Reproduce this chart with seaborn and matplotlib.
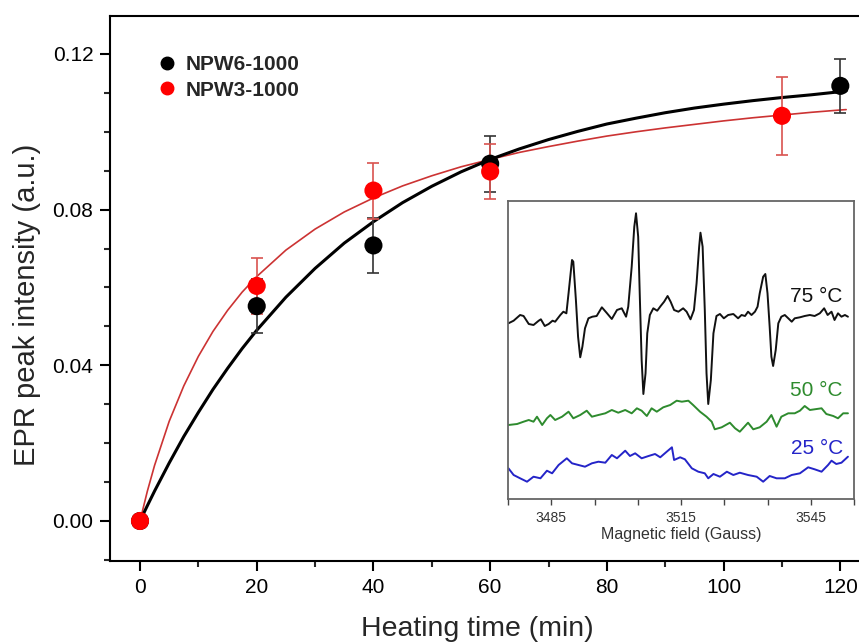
import numpy as np
import matplotlib
matplotlib.use("Agg")
import matplotlib.pyplot as plt
import seaborn as sns
from matplotlib.ticker import MultipleLocator, FixedLocator, FormatStrFormatter
from matplotlib.lines import Line2D

# ---------------- data: main panel ----------------
time_npw6 = [0, 20, 40, 60, 120]
intensity_npw6 = [0.0, 0.0552, 0.0708, 0.0918, 0.1118]
error_npw6 = [0.0, 0.0070, 0.0070, 0.0072, 0.0070]

time_npw3 = [0, 20, 40, 60, 110]
intensity_npw3 = [0.0, 0.0604, 0.0849, 0.0898, 0.1041]
error_npw3 = [0.0, 0.0073, 0.0072, 0.0071, 0.0100]

# fitted curves
fit_time = [0, 1.25, 2.5, 5, 7.5, 10, 12.5, 15, 17.5, 20, 25, 30, 35, 40, 45, 50, 55, 60,
            65, 70, 75, 80, 85, 90, 95, 100, 105, 110, 115, 120, 121]
fit_npw6 = [0.0, 0.0039, 0.0077, 0.0149, 0.0217, 0.0279, 0.0338, 0.0392, 0.0443, 0.0490,
            0.0575, 0.0649, 0.0714, 0.0769, 0.0818, 0.0860, 0.0897, 0.0929,
            0.0956, 0.0980, 0.1001, 0.1020, 0.1035, 0.1049, 0.1061, 0.1071, 0.1080,
            0.1088, 0.1095, 0.1103, 0.1105]
fit_npw3 = [0.0, 0.0076, 0.0143, 0.0256, 0.0347, 0.0423, 0.0487, 0.0541, 0.0588, 0.0628,
            0.0696, 0.0750, 0.0794, 0.0830, 0.0861, 0.0887, 0.0910, 0.0929,
            0.0947, 0.0962, 0.0976, 0.0989, 0.1000, 0.1010, 0.1019, 0.1028, 0.1036,
            0.1043, 0.1050, 0.1056, 0.1057]

legend_labels = ["NPW6-1000", "NPW3-1000"]

# ---------------- data: inset EPR spectra ----------------
field_75 = [3475.1, 3476.3, 3477.8, 3478.6, 3479.8, 3480.9, 3482.1, 3482.6, 3483.5, 3484.4,
            3485.3, 3485.9, 3487.1, 3487.8, 3488.5, 3489.0, 3489.8, 3490.1, 3490.7, 3491.2,
            3491.7, 3492.2, 3492.8, 3493.6, 3494.5, 3495.5, 3496.7, 3497.9, 3499.0, 3500.2,
            3501.3, 3502.3, 3502.8, 3503.6, 3504.2, 3504.6, 3505.1, 3505.5, 3505.9, 3506.3,
            3506.8, 3507.2, 3507.8, 3508.6, 3509.5, 3510.3, 3511.1, 3511.9, 3512.6, 3513.4,
            3514.4, 3515.5, 3516.3, 3517.2, 3518.0, 3518.6, 3519.2, 3519.5, 3520.0, 3520.5,
            3520.9, 3521.3, 3521.9, 3522.5, 3523.2, 3524.0, 3524.9, 3525.9, 3527.1, 3528.2,
            3529.0, 3529.8, 3530.5, 3531.3, 3532.1, 3532.7, 3533.2, 3534.0, 3534.5, 3535.0,
            3535.5, 3535.9, 3536.3, 3536.9, 3537.5, 3538.2, 3539.0, 3539.8, 3540.6, 3541.3,
            3542.5, 3543.6, 3544.8, 3545.9, 3547.1, 3548.1, 3548.9, 3549.8, 3550.5, 3551.3,
            3552.1, 3552.9, 3553.6]
signal_75 = [-5.3, -2.7, 3.0, 2.0, -6.0, -7.0, -2.7, -1.3, -8.0, -6.0,
             -2.7, -3.7, 3.0, 6.3, 4.7, 24.7, 58.0, 56.3, 18.0, -18.7,
             -39.3, -28.7, -10.3, -0.3, 1.3, 2.0, 10.7, 4.7, -1.0, 8.0,
             9.7, 1.3, 11.3, 51.3, 91.3, 104.7, 81.3, 18.0, -42.0, -76.0,
             -55.3, -15.3, 3.0, 9.7, 7.3, 12.0, 16.3, 22.0, 16.3, 8.0,
             6.3, 9.7, 6.3, -1.3, 8.0, 34.7, 71.3, 85.3, 71.3, 8.0,
             -55.3, -86.0, -62.0, -15.3, 2.0, 4.0, -0.3, 3.0, 4.0, -0.3,
             3.0, 2.0, 6.3, 3.0, 6.3, 11.3, 24.7, 41.3, 44.0, 24.7,
             -8.7, -38.7, -48.0, -32.0, -5.3, 1.3, 3.0, -0.3, -3.7, -0.3,
             0.7, 2.0, 3.0, 2.0, 4.7, 9.7, 3.0, 6.3, -2.0, 4.7,
             1.3, 3.0, 1.3]

field_50 = [3475.1, 3477.1, 3478.6, 3479.8, 3480.9, 3481.7, 3482.9, 3484.0, 3484.8, 3485.9,
            3487.5, 3489.0, 3490.1, 3491.7, 3493.2, 3494.4, 3495.9, 3497.5, 3499.0, 3500.5,
            3502.1, 3503.6, 3504.8, 3505.9, 3507.1, 3508.2, 3509.4, 3510.9, 3512.5, 3514.0,
            3515.2, 3516.7, 3517.8, 3519.4, 3520.9, 3522.1, 3522.8, 3524.4, 3526.3, 3527.5,
            3528.6, 3530.5, 3531.7, 3533.2, 3534.8, 3535.9, 3537.1, 3538.2, 3539.8, 3541.3,
            3542.5, 3543.6, 3544.8, 3545.9, 3547.5, 3548.6, 3550.2, 3551.3, 3552.5, 3553.6]
signal_50 = [-10.0, -9.0, -6.7, -5.0, -6.7, -1.7, -10.0, -3.3, 0.0, -5.0,
             -1.7, 3.3, -3.3, 0.0, 4.3, -1.7, 0.0, 1.7, 5.0, 2.3,
             5.0, 1.7, 6.7, 4.3, -1.0, 6.7, 3.3, 7.7, 10.0, 14.3,
             13.3, 14.3, 10.0, 3.3, -1.7, -6.7, -14.3, -12.3, -7.7, -13.3,
             -16.7, -7.7, -14.3, -12.3, -6.7, 0.0, -11.7, -1.7, 1.7, 1.7,
             4.3, 9.0, 5.0, 5.7, 6.7, 1.0, -1.0, -3.3, 1.7, 1.7]

field_25 = [3475.1, 3476.3, 3477.8, 3479.4, 3480.9, 3482.5, 3484.0, 3485.2, 3486.7, 3488.6,
            3489.8, 3491.3, 3492.8, 3494.4, 3495.9, 3497.5, 3499.0, 3500.2, 3502.1, 3503.2,
            3504.4, 3505.9, 3507.5, 3509.0, 3510.2, 3511.7, 3512.9, 3513.4, 3514.8, 3515.9,
            3517.5, 3519.0, 3520.5, 3521.3, 3522.5, 3524.0, 3525.6, 3527.1, 3528.6, 3530.5,
            3532.5, 3534.0, 3535.5, 3537.1, 3539.0, 3540.6, 3542.5, 3544.4, 3545.9, 3547.5,
            3549.0, 3549.8, 3550.9, 3552.1, 3553.6]
signal_25 = [-1.3, -8.0, -11.3, -14.7, -9.7, -11.3, -3.7, -6.3, 2.0, 8.7,
             3.7, 2.0, 0.3, 3.7, 5.3, 4.3, 12.0, 8.7, 16.3, 11.0,
             13.7, 8.7, 11.0, 13.0, 9.7, 15.3, 19.7, 7.0, 9.7, 7.7,
             -1.3, -4.7, -6.3, -11.3, -7.0, -9.7, -4.7, -8.0, -5.7, -8.0,
             -9.7, -14.7, -9.0, -11.3, -11.3, -8.0, -6.3, -0.3, -2.3, -4.7,
             2.0, 6.3, 3.0, 4.3, 10.3]

spectrum_labels = ["75 \u00b0C", "50 \u00b0C", "25 \u00b0C"]

# ---------------- style ----------------
sns.set_theme(style="ticks")
plt.rcParams["font.family"] = ["Liberation Sans", "DejaVu Sans"]
plt.rcParams["axes.linewidth"] = 1.5

BLACK = "#000000"
RED_PT = "#ff0000"
RED_LINE = "#cc3333"
RED_ERR = "#d9534f"
GREEN = "#2e8b2e"
BLUE = "#2424c8"

fig = plt.figure(figsize=(8.59, 6.43), dpi=100)
fig.patch.set_facecolor("white")

ax = fig.add_axes([110 / 859, 82 / 643, 749 / 859, 545 / 643])
ax.set_facecolor("white")

# fitted curves
sns.lineplot(x=fit_time, y=fit_npw3, ax=ax, color=RED_LINE, lw=1.2,
             estimator=None, sort=False, zorder=2)
sns.lineplot(x=fit_time, y=fit_npw6, ax=ax, color=BLACK, lw=2.2,
             estimator=None, sort=False, zorder=2)

# error bars
ax.errorbar(time_npw6, intensity_npw6, yerr=error_npw6, fmt="none",
            ecolor="#333333", elinewidth=1.2, capsize=4.5, capthick=1.2, zorder=3)
ax.errorbar(time_npw3, intensity_npw3, yerr=error_npw3, fmt="none",
            ecolor=RED_ERR, elinewidth=1.2, capsize=4.5, capthick=1.2, zorder=3)

# points
sns.scatterplot(x=time_npw6, y=intensity_npw6, ax=ax, color=BLACK, s=170,
                edgecolor="none", zorder=4)
sns.scatterplot(x=time_npw3, y=intensity_npw3, ax=ax, color=RED_PT, s=170,
                edgecolor="none", zorder=5)

ax.set_xlim(-5.14, 123.2)
ax.set_ylim(-0.01028, 0.12975)
ax.xaxis.set_major_locator(MultipleLocator(20))
ax.xaxis.set_minor_locator(MultipleLocator(10))
ax.yaxis.set_major_locator(MultipleLocator(0.04))
ax.yaxis.set_minor_locator(MultipleLocator(0.01))
ax.yaxis.set_major_formatter(FormatStrFormatter("%.2f"))
ax.tick_params(which="major", direction="out", length=7, width=1.5,
               labelsize=15, pad=5, colors="black")
ax.tick_params(which="minor", direction="out", length=4.5, width=1.5)
ax.tick_params(top=False, right=False, which="both")
ax.spines["right"].set_visible(False)
for s in ["left", "bottom", "top"]:
    ax.spines[s].set_color("black")
    ax.spines[s].set_linewidth(1.5)

ax.set_xlabel("Heating time (min)", fontsize=20.5)
ax.set_ylabel("EPR peak intensity (a.u.)", fontsize=21)
ax.xaxis.set_label_coords(0.491, -0.1)
ax.yaxis.set_label_coords(-0.092, 0.47)

handles = [Line2D([], [], ls="none", marker="o", ms=9, color=BLACK),
           Line2D([], [], ls="none", marker="o", ms=9, color=RED_PT)]
ax.legend(handles, legend_labels, loc="upper left", bbox_to_anchor=(0.046, 0.955),
          frameon=False, prop={"weight": "bold", "size": 15},
          handlelength=0.8, handletextpad=0.5, labelspacing=0.32, borderpad=0.2)

# ---------------- inset ----------------
axin = fig.add_axes([508 / 859, (643 - 499) / 643, 346 / 859, 298 / 643])
axin.set_facecolor("white")
offsets = [181, 84, 32]
colors = ["#111111", GREEN, BLUE]
series = [(field_75, signal_75), (field_50, signal_50), (field_25, signal_25)]
for (fx, sy), off, col in zip(series, offsets, colors):
    sns.lineplot(x=fx, y=np.asarray(sy) + off, ax=axin, color=col, lw=1.4,
                 estimator=None, sort=False)

label_y = [203, 109, 51]
for lab, ly, col in zip(spectrum_labels, label_y, colors):
    axin.text(3552.4, ly, lab, color=col, fontsize=15, ha="right", va="center")

axin.set_xlim(3475, 3555)
axin.set_ylim(0, 298)
axin.xaxis.set_major_locator(FixedLocator([3485, 3515, 3545]))
axin.xaxis.set_minor_locator(FixedLocator([3475, 3495, 3505, 3525, 3535, 3555]))
axin.set_yticks([])
axin.tick_params(axis="x", which="both", direction="out", length=4, width=1.0,
                 colors="#444444", labelsize=10, labelcolor="#333333", pad=5)
for s in axin.spines.values():
    s.set_color("#666666")
    s.set_linewidth(1.3)
axin.set_xlabel("Magnetic field (Gauss)", fontsize=11.5, color="#333333", labelpad=1)
axin.set_ylabel("")

fig.savefig("out.png", dpi=100, facecolor="white")
